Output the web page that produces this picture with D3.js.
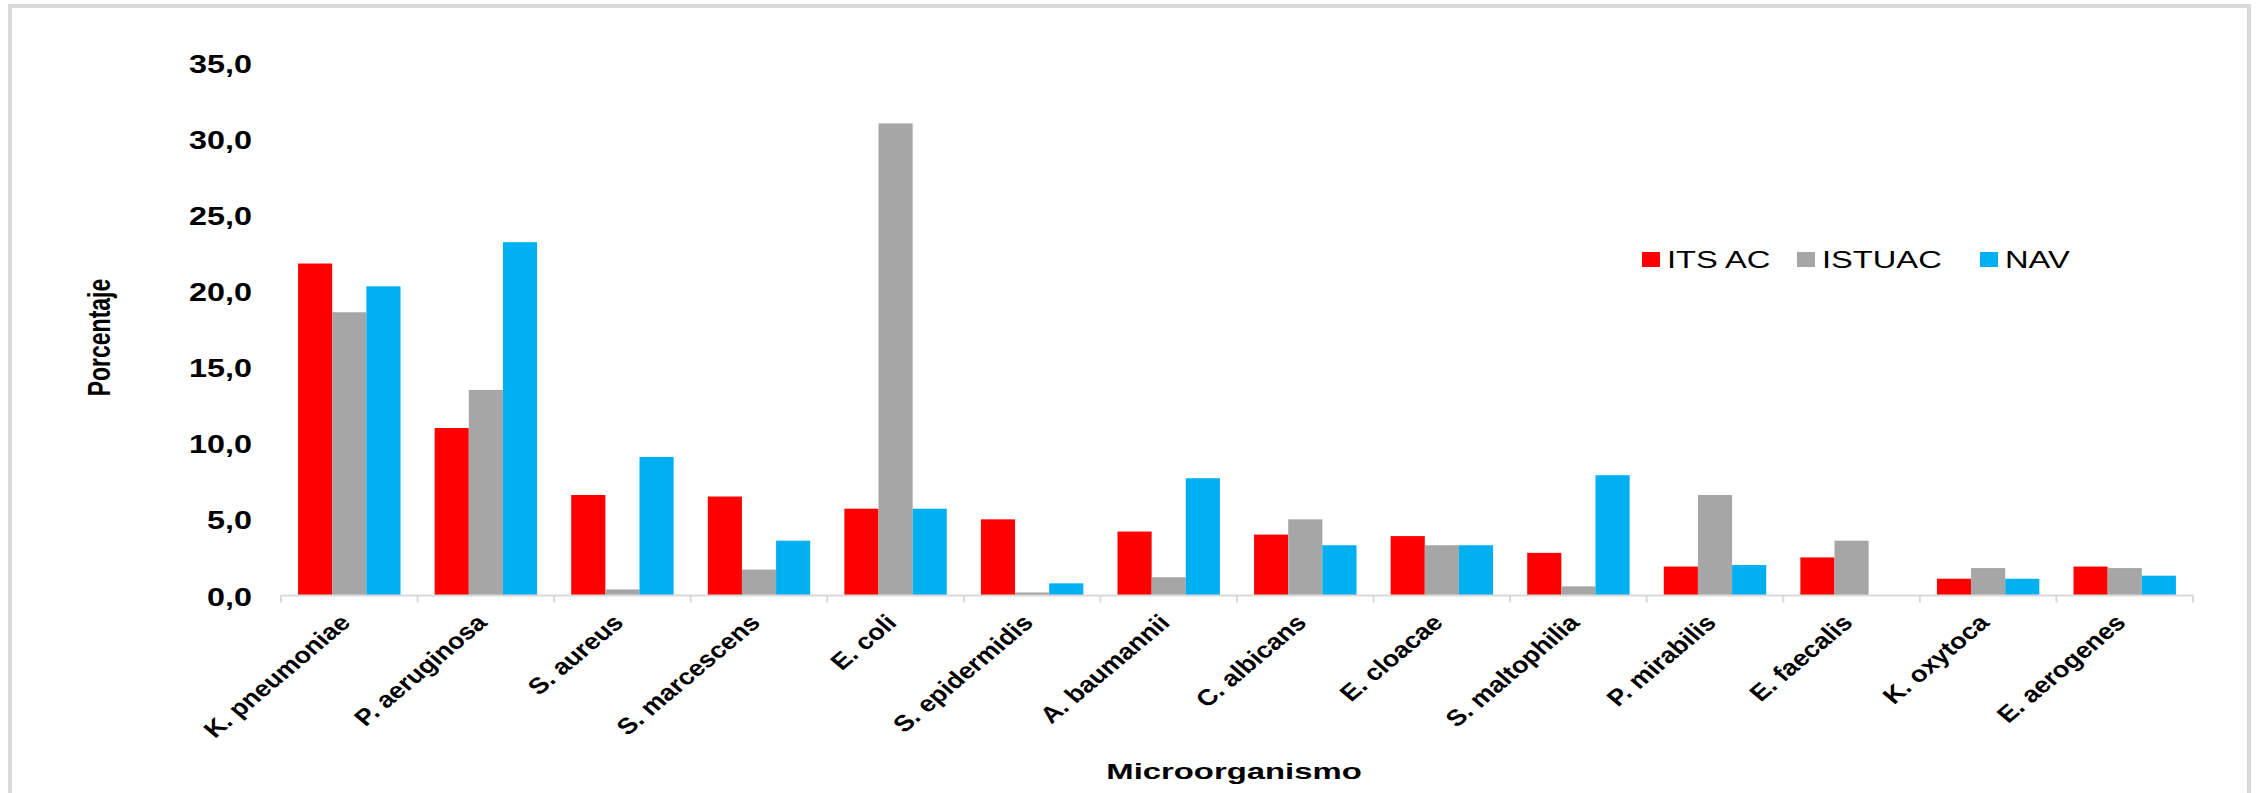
<!DOCTYPE html>
<html>
<head>
<meta charset="utf-8">
<script src="https://cdn.jsdelivr.net/npm/d3@7"></script>
<style>
  html, body { margin: 0; padding: 0; background: #fff; }
  svg { display: block; font-family: "Liberation Sans", Arial, sans-serif; }
</style>
</head>
<body>
<svg id="chart" width="2256" height="793"></svg>
<script>
// Microorganism percentages per infection type
const categories = ["K. pneumoniae", "P. aeruginosa", "S. aureus", "S. marcescens", "E. coli",
  "S. epidermidis", "A. baumannii", "C. albicans", "E. cloacae", "S. maltophilia",
  "P. mirabilis", "E. faecalis", "K. oxytoca", "E. aerogenes"];
const seriesNames = ["ITS AC", "ISTUAC", "NAV"];
const itsAc  = [21.8, 11.0, 6.6, 6.5, 5.7, 5.0, 4.2, 4.0, 3.9, 2.8, 1.9, 2.5, 1.1, 1.9];
const istuac = [18.6, 13.5, 0.4, 1.7, 31.0, 0.2, 1.2, 5.0, 3.3, 0.6, 6.6, 3.6, 1.8, 1.8];
const nav    = [20.3, 23.2, 9.1, 3.6, 5.7, 0.8, 7.7, 3.3, 3.3, 7.9, 2.0, 0.0, 1.1, 1.3];
const yTicks = [0, 5, 10, 15, 20, 25, 30, 35];
const colors = ["#FF0000", "#A6A6A6", "#00B0F0"];

const seriesValues = [itsAc, istuac, nav];

const svg = d3.select("#chart");

// outer frame
svg.append("rect")
  .attr("x", 10).attr("y", 6)
  .attr("width", 2239).attr("height", 820)
  .attr("fill", "#fff")
  .attr("stroke", "#d9d9d9").attr("stroke-width", 4);

const plot = { left: 281, right: 2193, top: 62.5, bottom: 595.5 };

const x = d3.scaleBand().domain(categories).range([plot.left, plot.right]).paddingInner(0).paddingOuter(0);
const xs = d3.scaleBand().domain(seriesNames).range([0, x.bandwidth()]).paddingInner(0).paddingOuter(0.5);
const y = d3.scaleLinear().domain([0, 35]).range([plot.bottom, plot.top]);

const locale = d3.formatLocale({ decimal: ",", thousands: ".", grouping: [3], currency: ["", " €"] });
const fmt = locale.format(".1f");

// y axis: labels only
const yAxis = svg.append("g")
  .attr("transform", `translate(252,0)`)
  .call(d3.axisLeft(y).tickValues(yTicks).tickFormat(fmt).tickSize(0).tickPadding(0));
yAxis.select(".domain").remove();
yAxis.selectAll("text")
  .attr("x", 0)
  .attr("dy", "0.36em")
  .attr("transform", "scale(1.22,1)")
  .attr("font-family", "Liberation Sans, Arial, sans-serif")
  .attr("font-size", 26.5)
  .attr("font-weight", "bold")
  .attr("fill", "#000");

// bars
const groups = svg.append("g").selectAll("g")
  .data(categories)
  .join("g")
  .attr("transform", d => `translate(${x(d)},0)`);

groups.selectAll("rect")
  .data((d, i) => seriesNames.map((s, k) => ({ s, v: seriesValues[k][i], k })))
  .join("rect")
  .attr("x", d => xs(d.s))
  .attr("width", xs.bandwidth())
  .attr("y", d => y(d.v))
  .attr("height", d => y(0) - y(d.v))
  .attr("fill", d => colors[d.k]);

// category axis line and boundary ticks
const xAxis = svg.append("g").attr("stroke", "#d9d9d9").attr("stroke-width", 2);
xAxis.append("line")
  .attr("x1", plot.left).attr("x2", plot.right)
  .attr("y1", y(0)).attr("y2", y(0));
xAxis.selectAll("line.tick")
  .data(categories.map(c => x(c)).concat([x.range()[1]]))
  .join("line")
  .attr("class", "tick")
  .attr("x1", d => d).attr("x2", d => d)
  .attr("y1", y(0)).attr("y2", y(0) + 7);

// rotated category labels (45° text, widened horizontally)
svg.append("g").selectAll("text")
  .data(categories)
  .join("text")
  .attr("transform", d => `translate(${x(d) + x.bandwidth() / 2 + 2.5},${y(0) + 28.5}) scale(1.19,1) rotate(-45)`)
  .attr("text-anchor", "end")
  .attr("font-size", 22.7)
  .attr("font-weight", "bold")
  .attr("fill", "#000")
  .text(d => d);

// axis titles
svg.append("text")
  .attr("transform", "translate(1234,779) scale(1.46,1)")
  .attr("text-anchor", "middle")
  .attr("font-size", 22.5)
  .attr("font-weight", "bold")
  .attr("fill", "#000")
  .text("Microorganismo");

svg.append("text")
  .attr("transform", "translate(110,337.5) rotate(-90) scale(1,1.4)")
  .attr("text-anchor", "middle")
  .attr("font-size", 23)
  .attr("font-weight", "bold")
  .attr("fill", "#000")
  .text("Porcentaje");

// legend
const legendX = [1642, 1797, 1980];
const legend = svg.append("g").selectAll("g")
  .data(seriesNames)
  .join("g")
  .attr("transform", (d, i) => `translate(${legendX[i]},0)`);
legend.append("rect")
  .attr("x", 0).attr("y", 252)
  .attr("width", 18).attr("height", 15)
  .attr("fill", (d, i) => colors[i]);
legend.append("text")
  .attr("transform", "translate(25,268) scale(1.42,1)")
  .attr("font-size", 23)
  .attr("fill", "#000")
  .text(d => d);
</script>
</body>
</html>
